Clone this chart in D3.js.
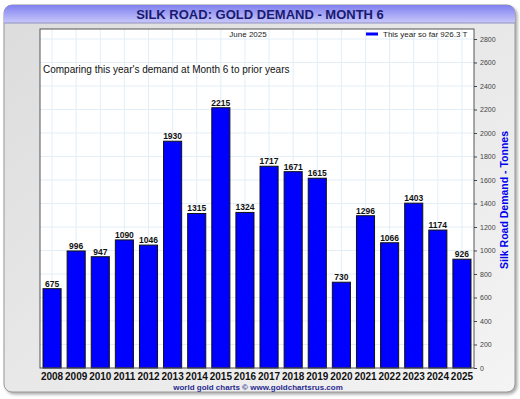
<!DOCTYPE html>
<html><head><meta charset="utf-8">
<script src="https://cdn.jsdelivr.net/npm/d3@7"></script>
<style>body{margin:0;background:#fff;}svg{display:block;font-family:"Liberation Sans",Arial,sans-serif;}</style>
</head><body>
<svg id="c" width="520" height="399"></svg>
<script>
const years = ["2008","2009","2010","2011","2012","2013","2014","2015","2016","2017","2018","2019","2020","2021","2022","2023","2024","2025"];
const demand = [675,996,947,1090,1046,1930,1315,2215,1324,1717,1671,1615,730,1296,1066,1403,1174,926];
const yTicks = [0,200,400,600,800,1000,1200,1400,1600,1800,2000,2200,2400,2600,2800];

const svg = d3.select("#c");
const defs = svg.append("defs");
const tg = defs.append("linearGradient").attr("id","tg").attr("x1",0).attr("x2",0).attr("y1",0).attr("y2",1);
tg.append("stop").attr("offset","0").attr("stop-color","#8080f0");
tg.append("stop").attr("offset","1").attr("stop-color","#c8c8fa");
const bg = defs.append("linearGradient").attr("id","bg").attr("x1",0).attr("x2",1).attr("y1",0).attr("y2",1);
bg.append("stop").attr("offset","0").attr("stop-color","#dcdcdc");
bg.append("stop").attr("offset","1").attr("stop-color","#f4f4f4");
const sh = defs.append("filter").attr("id","sh").attr("x","-5%").attr("y","-5%").attr("width","110%").attr("height","110%");
sh.append("feDropShadow").attr("dx",2).attr("dy",2).attr("stdDeviation",1.5).attr("flood-color","#888").attr("flood-opacity",0.7);

svg.append("rect").attr("x",4).attr("y",5).attr("width",511).attr("height",387).attr("rx",8)
  .attr("fill","url(#bg)").attr("stroke","#999").attr("stroke-width",1).attr("filter","url(#sh)");
const clip = defs.append("clipPath").attr("id","tc");
clip.append("rect").attr("x",4).attr("y",5).attr("width",511).attr("height",387).attr("rx",8);
svg.append("rect").attr("x",4).attr("y",5).attr("width",511).attr("height",18).attr("fill","url(#tg)").attr("clip-path","url(#tc)");
svg.append("line").attr("x1",4).attr("x2",515).attr("y1",23).attr("y2",23).attr("stroke","#9090c0");
svg.append("text").attr("x",260).attr("y",19).attr("text-anchor","middle").attr("font-size",13).attr("font-weight","bold")
  .attr("fill","#1a1a70").text("SILK ROAD: GOLD DEMAND - MONTH 6");

const L=40, R=474, T=29, B=368;
const x = d3.scaleBand().domain(years).range([L,R]).paddingInner(0.25).paddingOuter(0.125);
const y = d3.scaleLinear().domain([0,2800]).range([B,39]);

svg.append("rect").attr("x",L).attr("y",T).attr("width",R-L).attr("height",B-T).attr("fill","#fff");
const g = svg.append("g");
g.selectAll(".hg").data(yTicks).join("line").attr("x1",L).attr("x2",R).attr("y1",d=>y(d)).attr("y2",d=>y(d))
  .attr("stroke","#e3eef6").attr("stroke-width",1);
g.selectAll(".vg").data(years).join("line").attr("x1",d=>x(d)+x.bandwidth()/2).attr("x2",d=>x(d)+x.bandwidth()/2)
  .attr("y1",T).attr("y2",B).attr("stroke","#e3eef6").attr("stroke-width",1);

svg.selectAll(".bar").data(years).join("rect").attr("x",d=>x(d)).attr("width",x.bandwidth())
  .attr("y",(d,i)=>y(demand[i])).attr("height",(d,i)=>B-y(demand[i]))
  .attr("fill","#0000ff").attr("stroke","#111").attr("stroke-width",1);
svg.selectAll(".bl").data(years).join("text").attr("x",d=>x(d)+x.bandwidth()/2).attr("y",(d,i)=>y(demand[i])-2)
  .attr("text-anchor","middle").attr("font-size",8.5).attr("font-weight","bold").attr("fill","#111").text((d,i)=>demand[i]);

svg.append("rect").attr("x",L).attr("y",T).attr("width",R-L).attr("height",B-T).attr("fill","none").attr("stroke","#555").attr("stroke-width",1);

const ya = svg.append("g").attr("transform",`translate(${R},0)`).call(d3.axisRight(y).tickValues(yTicks).tickFormat(d3.format("d")).tickSize(3).tickPadding(3));
ya.select(".domain").remove();
ya.selectAll("text").attr("font-size",7).attr("fill","#444").attr("font-family","Liberation Sans, Arial, sans-serif");
ya.selectAll("line").attr("stroke","#444");

const xa = svg.append("g").attr("transform",`translate(0,${B})`).call(d3.axisBottom(x).tickSize(0).tickPadding(5));
xa.select(".domain").remove();
xa.selectAll("text").attr("font-size",10).attr("font-weight","bold").attr("fill","#111").attr("font-family","Liberation Sans, Arial, sans-serif");

svg.append("text").attr("x",248).attr("y",37).attr("text-anchor","middle").attr("font-size",8).attr("fill","#222").text("June 2025");
svg.append("line").attr("x1",366).attr("x2",378).attr("y1",34).attr("y2",34).attr("stroke","#0000ff").attr("stroke-width",3);
svg.append("text").attr("x",383).attr("y",37).attr("font-size",8).attr("fill","#222").text("This year so far 926.3 T");
svg.append("text").attr("x",43).attr("y",73).attr("font-size",10).attr("fill","#111").text("Comparing this year's demand at Month 6 to prior years");
svg.append("text").attr("transform","translate(508,200) rotate(-90)").attr("text-anchor","middle").attr("font-size",10.5)
  .attr("font-weight","bold").attr("fill","#0000ee").text("Silk Road Demand - Tonnes");
svg.append("text").attr("x",258).attr("y",390).attr("text-anchor","middle").attr("font-size",8).attr("font-weight","bold")
  .attr("fill","#2a2a90").text("world gold charts © www.goldchartsrus.com");
</script>
</body></html>
